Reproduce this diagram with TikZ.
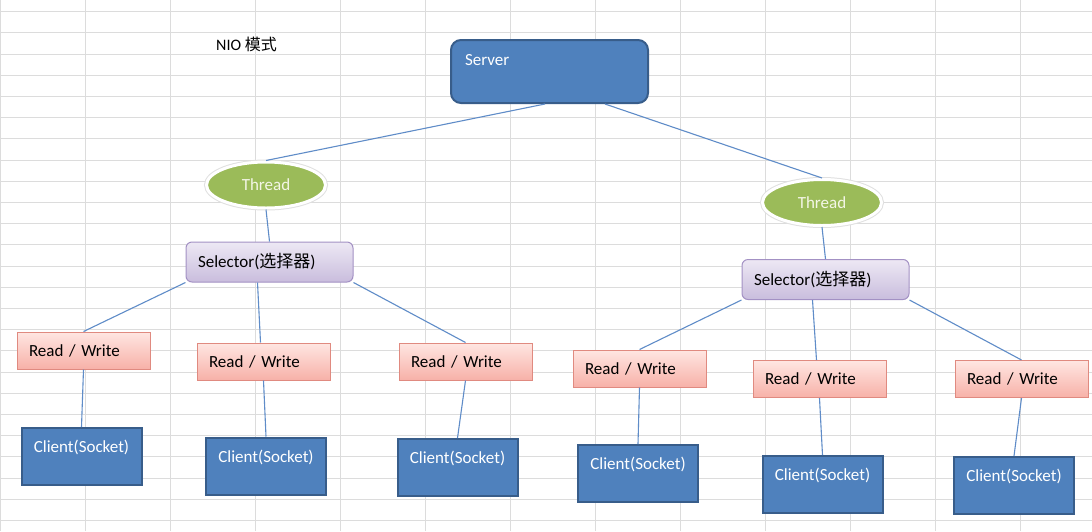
\documentclass[tikz,border=0pt]{standalone}
\usepackage{fontspec}
\setmainfont{Carlito}
\newfontfamily\cjk{Noto Sans CJK SC}
\usetikzlibrary{shapes.geometric}

\definecolor{boxblue}{HTML}{4F81BD}
\definecolor{boxedge}{HTML}{385D8A}
\definecolor{threadgreen}{HTML}{9BBB59}
\definecolor{threadtext}{HTML}{F4F6E6}
\definecolor{seltop}{HTML}{EDE8F4}
\definecolor{selbottom}{HTML}{C9BDDD}
\definecolor{seledge}{HTML}{A391C4}
\definecolor{rwtop}{HTML}{FFE6E2}
\definecolor{rwbottom}{HTML}{F7B1A8}
\definecolor{rwedge}{HTML}{E08A80}
\definecolor{linkblue}{HTML}{5F8CC8}
\definecolor{gridgray}{HTML}{DCDCDC}

\begin{document}
\begin{tikzpicture}[x=1pt, y=-1pt,
    every node/.style={font=\fontsize{17pt}{20pt}\selectfont, inner sep=0pt},
    gridline/.style={draw=gridgray, line width=0.8pt},
    link/.style={draw=linkblue, line width=1.1pt},
    bluebox/.style={rectangle, fill=boxblue, draw=boxedge, line width=2pt, text=white},
    serverbox/.style={bluebox, rounded corners=10pt, text width=169pt, align=left, inner xsep=14pt,
      text height=25.5pt, text depth=37.5pt},
    clientbox/.style={bluebox, minimum width=120pt, text height=24.5pt, text depth=32.5pt},
    thread/.style={ellipse, fill=threadgreen, draw=white, line width=3pt, text=threadtext,
      minimum width=119pt, minimum height=46pt, preaction={draw=black!12, line width=5pt}},
    selectorbox/.style={rectangle, rounded corners=6pt, draw=seledge, line width=1pt,
      top color=seltop, bottom color=selbottom, text width=143pt, align=left, inner xsep=12pt,
      minimum height=40pt},
    rwbox/.style={rectangle, draw=rwedge, line width=1pt, top color=rwtop, bottom color=rwbottom,
      text width=109pt, align=left, inner xsep=12pt, minimum height=37pt}]
  \useasboundingbox (0,0) rectangle (1092,531);
  \fill[white] (0,0) rectangle (1092,531);
  \draw[gridline, shift={(0,11.5)}, xstep=85pt, ystep=21.2pt] (0,-11.5) grid (1092,519.5);

  \node[anchor=west, font=\fontsize{16pt}{18pt}\selectfont] (title) at (216,44) {NIO {\cjk 模式}};

  \node[serverbox] (srv) at (549.5,71.5) {Server};

  \node[thread] (thL) at (266,185) {Thread};
  \node[thread] (thR) at (822,202.5) {Thread};

  \node[selectorbox] (selL) at (269.5,262) {Selector({\cjk 选择器})};
  \node[selectorbox] (selR) at (825.5,279.5) {Selector({\cjk 选择器})};

  \node[rwbox] (rw1) at (83.5,350.5) {Read / Write};
  \node[rwbox] (rw2) at (263.5,361.5) {Read / Write};
  \node[rwbox] (rw3) at (465.5,361.5) {Read / Write};
  \node[rwbox] (rw4) at (639.5,368.5) {Read / Write};
  \node[rwbox] (rw5) at (819.5,379) {Read / Write};
  \node[rwbox] (rw6) at (1021.5,379) {Read / Write};

  \node[clientbox] (c1) at (81.5,456.5) {Client(Socket)};
  \node[clientbox] (c2) at (266,466) {Client(Socket)};
  \node[clientbox] (c3) at (457.5,467.5) {Client(Socket)};
  \node[clientbox] (c4) at (638,473.5) {Client(Socket)};
  \node[clientbox] (c5) at (822.5,484.5) {Client(Socket)};
  \node[clientbox] (c6) at (1014,485.5) {Client(Socket)};

  \draw[link] ([xshift=-4.5pt]srv.south) -- (thL.north);
  \draw[link] ([xshift=55.5pt]srv.south) -- (thR.north);
  \draw[link] (thL.south) -- (selL.north);
  \draw[link] (thR.south) -- (selR.north);

  \draw[link] (selL.south west) -- (rw1.north);
  \draw[link] ([xshift=-12pt]selL.south) -- ([xshift=-3pt]rw2.north);
  \draw[link] (selL.south east) -- (rw3.north);
  \draw[link] (selR.south west) -- (rw4.north);
  \draw[link] ([xshift=-13pt]selR.south) -- ([xshift=-3pt]rw5.north);
  \draw[link] (selR.south east) -- (rw6.north);

  \draw[link] (rw1.south) -- (c1.north);
  \draw[link] (rw2.south) -- (c2.north);
  \draw[link] (rw3.south) -- (c3.north);
  \draw[link] (rw4.south) -- (c4.north);
  \draw[link] (rw5.south) -- (c5.north);
  \draw[link] (rw6.south) -- (c6.north);
\end{tikzpicture}
\end{document}
